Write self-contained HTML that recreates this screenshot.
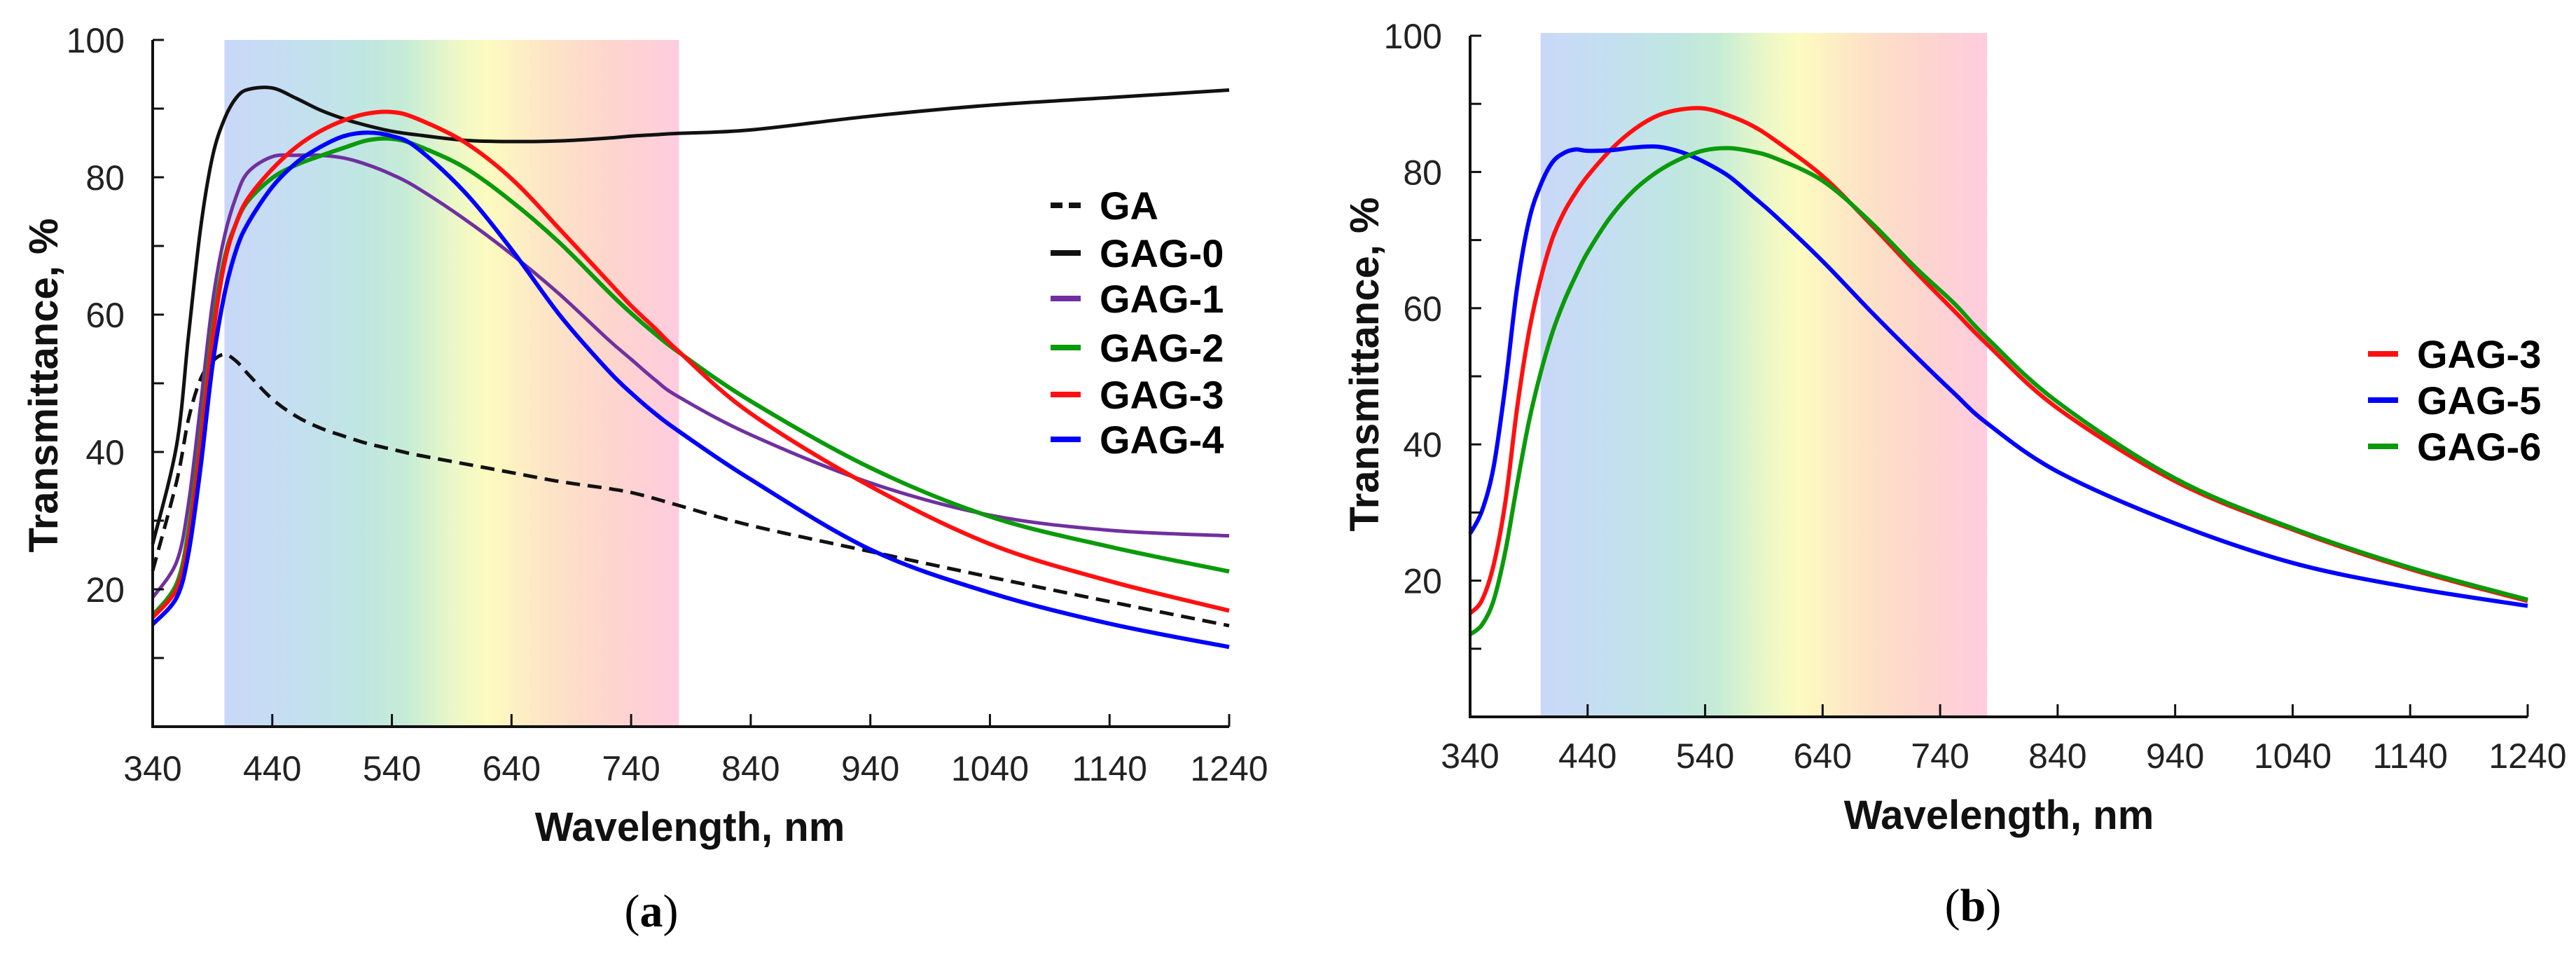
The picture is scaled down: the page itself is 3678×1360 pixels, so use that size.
<!DOCTYPE html>
<html><head><meta charset="utf-8">
<style>
html,body{margin:0;padding:0;background:#fff;}
svg{display:block;}
text{font-family:"Liberation Sans",sans-serif;}
</style></head>
<body>
<svg id="fig" width="3678" height="1360" viewBox="0 0 3678 1360" xmlns="http://www.w3.org/2000/svg">
<defs>
<linearGradient id="spec" x1="0" x2="1" y1="0" y2="0">
<stop offset="0" stop-color="#c9d8f8"/>
<stop offset="0.16" stop-color="#c4dff0"/>
<stop offset="0.3" stop-color="#c0e6e2"/>
<stop offset="0.4" stop-color="#c6ecd6"/>
<stop offset="0.5" stop-color="#eaf7c8"/>
<stop offset="0.58" stop-color="#fdfbbf"/>
<stop offset="0.7" stop-color="#fde6c6"/>
<stop offset="0.85" stop-color="#fdd5cd"/>
<stop offset="1" stop-color="#ffcce0"/>
</linearGradient>
</defs>
<g id="panelA"></g>
<g id="panelB"></g>
</svg>
<script>
// ---- Panel (a) data ----
const wlA = [340,360,370,380,390,400,410,420,440,460,480,500,520,540,560,600,640,680,720,740,760,780,840,940,1040,1140,1240];
const gaA   = [22.7,35.7,44.8,50.6,53.2,54.2,53.2,51.3,47.7,45.2,43.5,42.3,41.2,40.4,39.6,38.3,37,35.7,34.7,34.1,33.2,32.2,29.3,25.5,21.8,18.2,14.7];
const gag0A = [26.6,41,57,72.5,83,88.5,91.6,92.8,93,91.5,89.8,88.5,87.5,86.7,86.2,85.4,85.2,85.3,85.7,86,86.2,86.4,86.9,88.9,90.5,91.6,92.7];
const gag1A = [18.8,24,32.5,46.8,61.7,71.4,77.3,80.8,83,83.2,83.2,82.8,81.8,80.4,78.6,74,68.8,63,56.5,53.5,50.5,48,42.5,35.5,30.8,28.6,27.8];
const gag2A = [16.2,20.8,28.6,42.2,57.8,68.2,73.4,76.6,79.9,81.8,83.1,84.3,85.4,85.6,84.7,81.5,76.5,70.5,63.5,60.2,57.2,54.5,47.4,37.7,30.6,26.2,22.6];
const gag3A = [15.9,20.1,27.3,40.9,56.5,67.5,73.4,77,81.2,84.4,86.7,88.3,89.3,89.5,88.6,85.2,79.8,72.5,65,61.3,58,54.6,45.6,35,26.6,21.2,16.9];
const gag4A = [14.9,18.8,25.3,37.7,52.6,63,69.5,73.4,78.6,82.1,84.4,86,86.5,86,84.4,78,69.5,60,52,48.6,45.6,43,36,25.8,19.5,15,11.6];
// ---- Panel (b) data ----
const wlB = [340,350,360,370,380,390,400,410,420,430,440,460,480,500,520,540,560,580,600,640,680,720,752,780,840,940,1040,1140,1240];
const gag3B = [15.2,17.1,22.3,31.5,45.3,56.4,64.3,70.2,74.1,77,79.4,83.3,86.3,88.3,89.2,89.3,88.3,86.8,84.6,79.4,72.5,65.2,59.6,54.7,45.3,34.6,27.5,21.7,17];
const gag5B = [26.9,30.2,36.7,48.6,63,72.8,78.1,81.4,82.8,83.3,83.1,83.2,83.6,83.7,82.9,81.4,79.4,76.5,73.5,66.9,59.7,52.8,47.5,43.1,36,28.4,22.6,19,16.3];
const gag6B = [12.1,13.5,17.1,24.3,34.1,43.3,50.5,56.4,61,64.8,68.2,73.5,77.4,80.1,82,83.2,83.5,83,82,78.7,72.8,65.8,60.7,55.6,46.2,35,27.7,21.9,17.2];
// ---- ticks ----
const xTicks = [340,440,540,640,740,840,940,1040,1140,1240];
const yTickLabels = [20,40,60,80,100];
const yMinor = [10,20,30,40,50,60,70,80,90,100];

const NS = "http://www.w3.org/2000/svg";
function mk(tag, attrs, parent){const e=document.createElementNS(NS,tag);for(const k in attrs)e.setAttribute(k,attrs[k]);parent.appendChild(e);return e;}

function smoothPath(pts){
  let d = "M"+pts[0][0].toFixed(1)+","+pts[0][1].toFixed(1);
  for(let i=0;i<pts.length-1;i++){
    const p0=pts[Math.max(0,i-1)],p1=pts[i],p2=pts[i+1],p3=pts[Math.min(pts.length-1,i+2)];
    const c1x=p1[0]+(p2[0]-p0[0])/6,c1y=p1[1]+(p2[1]-p0[1])/6;
    const c2x=p2[0]-(p3[0]-p1[0])/6,c2y=p2[1]-(p3[1]-p1[1])/6;
    d+=" C"+c1x.toFixed(1)+","+c1y.toFixed(1)+" "+c2x.toFixed(1)+","+c2y.toFixed(1)+" "+p2[0].toFixed(1)+","+p2[1].toFixed(1);
  }
  return d;
}

function panel(g, cfg){
  const X = w => cfg.x0 + (w-340)/(1240-340)*(cfg.x1-cfg.x0);
  const Y = v => cfg.y0 - v/100*(cfg.y0-cfg.y100);
  const band = mk("rect",{x:X(400),y:cfg.bandTop,width:X(780)-X(400),height:cfg.y0-cfg.bandTop,fill:"url(#spec)"},g);
  
  
  cfg.series.forEach(s=>{
    const pts = cfg.wl.map((w,i)=>[X(w),Y(s.vals[i])]);
    const p = mk("path",{d:smoothPath(pts),fill:"none",stroke:s.color,"stroke-width":s.w||6,"stroke-linejoin":"round"},g);
    if(s.dash) p.setAttribute("stroke-dasharray",s.dash);
    
    
  });
  const ax = mk("path",{d:"M"+cfg.x0+","+cfg.y100+" V"+cfg.y0+" H"+cfg.x1,fill:"none",stroke:"#111","stroke-width":4},g);
  
  
  yMinor.forEach(v=>{
    const t = mk("line",{x1:cfg.x0,x2:cfg.x0+16,y1:Y(v),y2:Y(v),stroke:"#111","stroke-width":3},g);
    
    
  });
  yTickLabels.forEach(v=>{
    const t = mk("text",{x:cfg.x0-40,y:Y(v)+18,"text-anchor":"end","font-size":50,fill:"#222"},g);
    t.textContent = v;
    
    
  });
  xTicks.forEach(w=>{
    const t = mk("line",{x1:X(w),x2:X(w),y1:cfg.y0,y2:cfg.y0-18,stroke:"#111","stroke-width":3},g);
    
    
    const l = mk("text",{x:X(w),y:cfg.xLabBase,"text-anchor":"middle","font-size":50,fill:"#222"},g);
    l.textContent = w;
    
    
  });
  const xt = mk("text",{x:cfg.xTitleX,y:cfg.xTitleY,"text-anchor":"middle","font-size":58,"font-weight":"bold",fill:"#111"},g);
  xt.textContent="Wavelength, nm";
  
  
  const yt = mk("text",{x:0,y:0,"text-anchor":"middle","font-size":58,"font-weight":"bold",fill:"#111",transform:"translate("+cfg.yTitleX+","+cfg.yTitleY+") rotate(-90)"},g);
  yt.textContent="Transmittance, %";
  
  
  cfg.series.forEach((s,i)=>{
    const cy = cfg.legY[i];
    const ln = mk("line",{x1:cfg.legX,x2:cfg.legX+43,y1:cy,y2:cy,stroke:s.color,"stroke-width":8},g);
    if(s.dash) ln.setAttribute("stroke-dasharray","17 9");
    
    
    const tx = mk("text",{x:cfg.legX+70,y:cy+20,"font-size":56,"font-weight":"bold",fill:"#000"},g);
    tx.textContent = s.name;
    
    
  });
  const cap = mk("text",{x:cfg.capX,y:cfg.capY,"text-anchor":"middle","font-size":66,fill:"#000"},g);
  cap.setAttribute("style","font-family:'Liberation Serif',serif");
  cap.appendChild(document.createTextNode("("));
  const b = mk("tspan",{"font-weight":"bold"},cap);
  b.textContent = cfg.cap;
  cap.appendChild(document.createTextNode(")"));
  
  
}

panel(document.getElementById("panelA"),{
  x0:218,x1:1755,y0:1037,y100:57,bandTop:57,xLabBase:1114,
  xTitleX:985,xTitleY:1200,yTitleX:82,yTitleY:550,
  legX:1500,legY:[293,361,426,496,563,627],capX:930,capY:1322,cap:"a",
  wl:wlA,
  series:[
    {name:"GA",vals:gaA,color:"#111",dash:"20 11",w:5},
    {name:"GAG-0",vals:gag0A,color:"#111",w:5},
    {name:"GAG-1",vals:gag1A,color:"#7030a0",w:5},
    {name:"GAG-2",vals:gag2A,color:"#0a9a0a"},
    {name:"GAG-3",vals:gag3A,color:"#ff1010"},
    {name:"GAG-4",vals:gag4A,color:"#0000ff"}
  ]
});
panel(document.getElementById("panelB"),{
  x0:2099,x1:3609,y0:1023,y100:51,bandTop:47,xLabBase:1096,
  xTitleX:2854,xTitleY:1183,yTitleX:1968,yTitleY:520,
  legX:3381,legY:[505,571,637],capX:2817,capY:1314,cap:"b",
  wl:wlB,
  series:[
    {name:"GAG-3",vals:gag3B,color:"#ff1010"},
    {name:"GAG-5",vals:gag5B,color:"#0000ff"},
    {name:"GAG-6",vals:gag6B,color:"#0a9a0a"}
  ]
});
</script>
</body></html>
